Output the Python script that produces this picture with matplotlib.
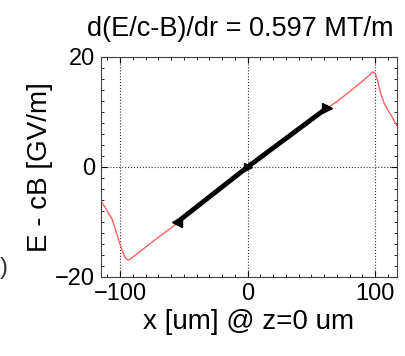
import numpy as np
import matplotlib
matplotlib.use('Agg')
import matplotlib.pyplot as plt
from matplotlib.ticker import AutoMinorLocator

plt.rcParams['font.family'] = ['Liberation Sans', 'DejaVu Sans']

# field profile across the beam (red) and the fitted region (black)
x_field = [-115, -112, -109, -106, -103, -100, -98, -96, -94, -92, -90, -80, -70, -60, -55,
           -40, -20, 0, 20, 40, 62, 70, 80, 90, 96, 98, 100, 102, 104, 107, 110, 113, 117]
e_field = [-6.3, -7.2, -8.4, -9.6, -11.8, -14.0, -15.4, -16.4, -16.9, -16.8, -16.4, -14.6, -12.8, -11.1, -10.2,
           -7.3, -3.6, 0.0, 3.5, 7.0, 10.6, 11.9, 13.7, 15.6, 16.8, 17.3, 17.0, 15.6, 13.6, 11.6, 10.3, 9.2, 7.5]
x_fit = [-55, 0, 62]
e_fit = [-10.0, 0.0, 10.7]
gradient = 0.597

fig = plt.figure(figsize=(4.05, 3.56), dpi=100)
ax = fig.add_axes([0.249, 0.222, 0.731, 0.618])

ax.plot(x_field, e_field, color='#ff6060', lw=1.0)
ax.plot(x_fit, e_fit, color='black', lw=3.5)
ax.plot(x_fit[0], e_fit[0], marker='<', color='black', ms=7)
ax.plot(x_fit[1], e_fit[1], marker='>', color='black', ms=6)
ax.plot(x_fit[-1], e_fit[-1], marker='>', color='black', ms=7)

ax.set_xlim(-115, 117)
ax.set_ylim(-20, 20)
ax.set_xticks([-100, 0, 100])
ax.set_yticks([-20, 0, 20])
ax.xaxis.set_minor_locator(AutoMinorLocator(10))
ax.yaxis.set_minor_locator(AutoMinorLocator(10))
ax.tick_params(which='both', direction='in', top=True, right=True, labelsize=17, pad=4)
ax.tick_params(which='major', length=4)
ax.tick_params(which='minor', length=2)
ax.grid(True, which='major', color='#333333', linestyle=':', lw=0.8)
for s in ax.spines.values():
    s.set_color('#444444')

ax.set_title('d(E/c-B)/dr = %.3f MT/m' % gradient, fontsize=19.5, pad=15, x=0.47)
ax.set_xlabel('x [um] @ z=0 um', fontsize=20, labelpad=3)
ax.set_ylabel('E - cB [GV/m]', fontsize=20, labelpad=2)

# fragment of the neighbouring panel's label
fig.text(0.0, 0.23, ')', fontsize=17, color='#333333')

fig.savefig('out.png', dpi=100)
